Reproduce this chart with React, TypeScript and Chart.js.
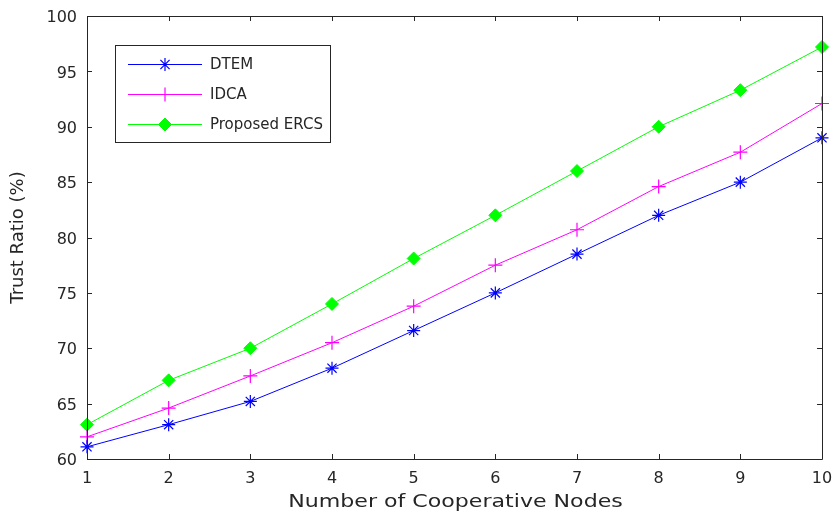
import React, { useEffect, useRef } from "react";
import { Chart, registerables } from "chart.js";
import { drawPoint } from "chart.js/helpers";

Chart.register(...registerables);

const nodes = [1, 2, 3, 4, 5, 6, 7, 8, 9, 10];
const dtem = [61.1, 63.1, 65.2, 68.2, 71.6, 75.0, 78.5, 82.0, 85.0, 89.0];
const idca = [62.0, 64.6, 67.5, 70.5, 73.8, 77.5, 80.7, 84.6, 87.7, 92.1];
const ercs = [63.1, 67.1, 70.0, 74.0, 78.1, 82.0, 86.0, 90.0, 93.3, 97.2];
const seriesNames = ["DTEM", "IDCA", "Proposed ERCS"];
const yTicks = [60, 65, 70, 75, 80, 85, 90, 95, 100];
const xTitle = "Number of Cooperative Nodes";
const yTitle = "Trust Ratio (%)";

const FONT = "'DejaVu Sans', Verdana, sans-serif";
const TXT = "#262626";

const styles = [
  { color: "#0000ff", pointStyle: "star", radius: 6.5, fill: "#0000ff", bw: 1.2 },
  { color: "#ff00ff", pointStyle: "cross", radius: 7, fill: "#ff00ff", bw: 1.2 },
  { color: "#00ff00", pointStyle: "rectRot", radius: 6.5, fill: "#00ff00", bw: 1 },
];

const framePlugin = {
  id: "frame",
  afterDraw(chart: any) {
    const { ctx, chartArea: a, scales } = chart;
    const xs = scales.x;
    const ys = scales.y;
    ctx.save();
    ctx.strokeStyle = TXT;
    ctx.lineWidth = 1;
    ctx.beginPath();
    ctx.rect(Math.round(a.left) + 0.5, Math.round(a.top) + 0.5, Math.round(a.right - a.left), Math.round(a.bottom - a.top));
    ctx.stroke();
    const tl = 5;
    ctx.beginPath();
    nodes.forEach((v) => {
      const px = Math.round(xs.getPixelForValue(v)) + 0.5;
      ctx.moveTo(px, a.bottom);
      ctx.lineTo(px, a.bottom - tl);
      ctx.moveTo(px, a.top);
      ctx.lineTo(px, a.top + tl);
    });
    yTicks.forEach((v) => {
      const py = Math.round(ys.getPixelForValue(v)) + 0.5;
      ctx.moveTo(a.left, py);
      ctx.lineTo(a.left + tl, py);
      ctx.moveTo(a.right, py);
      ctx.lineTo(a.right - tl, py);
    });
    ctx.stroke();

    // x-axis title (horizontally widened like the reference)
    ctx.save();
    ctx.fillStyle = TXT;
    ctx.font = `17px ${FONT}`;
    ctx.textAlign = "center";
    ctx.textBaseline = "middle";
    ctx.translate((a.left + a.right) / 2 + 1, 503);
    ctx.scale(1.3, 1);
    ctx.fillText(xTitle, 0, 0);
    ctx.restore();

    // legend box
    const bx = 115.5, by = 45.5, bw = 215, bh = 97;
    ctx.fillStyle = "#ffffff";
    ctx.fillRect(bx, by, bw, bh);
    ctx.strokeRect(bx, by, bw, bh);
    const rows = [64, 94, 124];
    ctx.font = `15px ${FONT}`;
    ctx.textBaseline = "middle";
    ctx.textAlign = "left";
    seriesNames.forEach((name, i) => {
      const s = styles[i];
      const y = rows[i] + 0.5;
      ctx.strokeStyle = s.color;
      ctx.lineWidth = 1;
      ctx.beginPath();
      ctx.moveTo(128, y);
      ctx.lineTo(202, y);
      ctx.stroke();
      ctx.fillStyle = s.fill;
      ctx.lineWidth = s.bw;
      drawPoint(ctx, { pointStyle: s.pointStyle, radius: s.radius, rotation: 0, borderWidth: s.bw }, 165, y);
      ctx.fillStyle = TXT;
      ctx.fillText(name, 210, rows[i] + 1);
    });
    ctx.restore();
  },
};

export default function App() {
  const ref = useRef<HTMLCanvasElement | null>(null);
  useEffect(() => {
    document.body.style.margin = "0";
    const canvas = ref.current!;
    const data = [dtem, idca, ercs];
    const chart = new Chart(canvas, {
      type: "line",
      data: {
        datasets: data.map((arr, i) => ({
          label: seriesNames[i],
          data: arr.map((v, j) => ({ x: nodes[j], y: v })),
          borderColor: styles[i].color,
          backgroundColor: styles[i].fill,
          borderWidth: 1,
          pointStyle: styles[i].pointStyle as any,
          pointRadius: styles[i].radius,
          pointBorderWidth: styles[i].bw,
          pointBorderColor: styles[i].color,
          pointBackgroundColor: styles[i].fill,
          tension: 0,
          fill: false,
          clip: false as any,
        })),
      },
      options: {
        responsive: false,
        animation: false,
        maintainAspectRatio: false,
        layout: { padding: { top: 16, right: 11, left: 0, bottom: 0 } },
        plugins: { legend: { display: false }, tooltip: { enabled: false } },
        scales: {
          x: {
            type: "linear",
            min: 1,
            max: 10,
            grid: { display: false, drawTicks: false },
            border: { display: false },
            ticks: {
              stepSize: 1,
              padding: 10,
              color: TXT,
              font: { family: FONT, size: 16 },
              maxRotation: 0,
            },
            title: { display: false },
            afterFit(scale: any) {
              scale.height = 58;
              scale.paddingLeft = 0;
              scale.paddingRight = 0;
            },
          },
          y: {
            min: 60,
            max: 100,
            grid: { display: false, drawTicks: false },
            border: { display: false },
            ticks: {
              stepSize: 5,
              padding: 10,
              labelOffset: 2,
              color: TXT,
              font: { family: FONT, size: 16 },
            },
            title: {
              display: true,
              text: yTitle,
              color: TXT,
              font: { family: FONT, size: 18 },
              padding: { top: 7.5, bottom: 0 },
            },
            afterFit(scale: any) {
              scale.width = 87;
              scale.paddingTop = 0;
              scale.paddingBottom = 0;
            },
          },
        },
      },
      plugins: [framePlugin],
    });
    return () => chart.destroy();
  }, []);
  return (
    <div style={{ width: 833, height: 517, background: "#fff" }}>
      <canvas ref={ref} width={833} height={517} style={{ display: "block" }} />
    </div>
  );
}
